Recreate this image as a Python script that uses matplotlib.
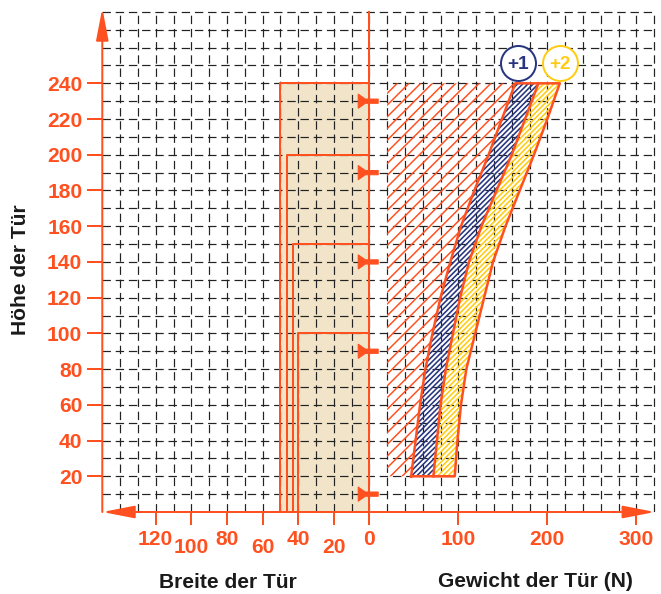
import numpy as np
import matplotlib.pyplot as plt
from matplotlib.patches import Polygon, Rectangle
from matplotlib.collections import LineCollection

plt.rcParams['font.family'] = ['Liberation Sans', 'DejaVu Sans']
plt.rcParams['font.weight'] = 'bold'

OR = '#ff5020'
NAVY = '#27357f'
GOLD = '#ffcc14'
BEIGE = '#f2e4c8'

# Höhe der Tür (cm) und Grenzkurven Gewicht (N)
hoehe = [20, 40, 60, 80, 100, 120, 140, 160, 180, 200, 220, 240]
grenze_links = [47, 52, 57, 63, 71, 80, 91, 103, 118, 134, 149, 164]
grenze_mitte = [72, 76, 80, 86, 94, 102, 112, 126, 143, 160, 175, 190]
grenze_rechts = [96, 99, 103, 109, 119, 129, 139, 153, 169, 185, 200, 214]

# Türbreiten (cm) mit zugehöriger max. Höhe
breite = [50, 46, 43, 40]
breite_hoehe = [240, 200, 150, 100]
pfeil_hoehe = [230, 190, 140, 90, 10]

breite_ticks = [120, 100, 80, 60, 40, 20, 0]
breite_unten = [False, True, False, True, False, True, False]
gewicht_ticks = [100, 200, 300]

S = 2  # 1 cm Breite = 2 Einheiten (N-Skala)

fig = plt.figure(figsize=(661 / 72, 594 / 72), dpi=72)
ax = fig.add_axes([102.3 / 661, 82 / 594, 553.6 / 661, 503.7 / 594])
ax.set_xlim(-300, 322)
ax.set_ylim(0, 282)
for s in ax.spines.values():
    s.set_visible(False)

kx = 553.6 / 622   # Pixel je Einheit
ky = 503.7 / 282


def schraffur(punkte, abstand, farbe, lw):
    # 45°-Schraffur (am Bildschirm), auf das Polygon beschnitten
    p = Polygon(punkte, closed=True, fill=False, lw=0)
    ax.add_patch(p)
    steig = kx / ky
    segs = [[(x0, 0), (x0 + 282 / steig, 282)] for x0 in np.arange(-700, 400, abstand / kx)]
    lc = LineCollection(segs, colors=farbe, linewidths=lw, zorder=2)
    lc.set_clip_path(p)
    ax.add_collection(lc, autolim=False)


# Raster
dash = (0, (7, 4))
ax.hlines(np.arange(10, 290, 10), -300, 320, colors='#222222', lw=1.2, linestyles=dash, zorder=1)
ax.vlines(np.arange(-280, 340, 20), 0, 280, colors='#222222', lw=1.2, linestyles=dash, zorder=1)

# Breite-Kasten
ax.add_patch(Rectangle((-S * breite[0], 0), S * breite[0], breite_hoehe[0], fc=BEIGE, ec='none', zorder=0.5))
for b, h in zip(breite, breite_hoehe):
    ax.plot([-S * b, -S * b, 0], [0, h, h], color=OR, lw=2, zorder=3)
ax.plot([0, 0], [0, 280], color=OR, lw=2, zorder=3)

# Pfeile auf der 0-Linie
form = np.array([[-12.5, 4.0], [-4.5, 1.2], [10, 1.2], [10, -1.2], [-4.5, -1.2], [-12.5, -4.0]])
for h in pfeil_hoehe:
    ax.add_patch(Polygon(form + [0, h], closed=True, fc=OR, ec=OR, lw=1, zorder=5))

# schraffierte Bereiche
rot = [(20, hoehe[0]), (20, hoehe[-1])] + list(zip(grenze_links[::-1], hoehe[::-1]))
schraffur(rot, 11.7, OR, 1.5)
blau = list(zip(grenze_links, hoehe)) + list(zip(grenze_mitte[::-1], hoehe[::-1]))
schraffur(blau, 5.2, NAVY, 1.6)
gelb = list(zip(grenze_mitte, hoehe)) + list(zip(grenze_rechts[::-1], hoehe[::-1]))
schraffur(gelb, 5.2, GOLD, 1.6)

ax.plot(grenze_links + grenze_rechts[::-1] + [grenze_links[0]],
        hoehe + hoehe[::-1] + [hoehe[0]], color=OR, lw=2.5, zorder=4)
ax.plot(grenze_mitte, hoehe, color=OR, lw=2.5, zorder=4)

# +1 / +2
for x, txt, c in [(167, '+1', NAVY), (214, '+2', GOLD)]:
    ax.plot(x, 251.5, 'o', ms=35, mfc='white', mec=c, mew=2, zorder=6, clip_on=False)
    ax.text(x, 251.5, txt, color=c, ha='center', va='center_baseline', fontsize=19, zorder=7)

# Achsen mit Pfeilen
ax.annotate('', xy=(-300, 282), xytext=(-300, 0),
            arrowprops=dict(arrowstyle='-|>,head_length=1.7,head_width=0.33', mutation_scale=16,
                            color=OR, lw=2, shrinkA=0, shrinkB=0), annotation_clip=False)
ax.annotate('', xy=(321, 0), xytext=(-300, 0),
            arrowprops=dict(arrowstyle='<|-|>,head_length=1.7,head_width=0.33', mutation_scale=16,
                            color=OR, lw=2, shrinkA=0, shrinkB=0), annotation_clip=False)

ax.set_yticks(range(20, 260, 20))
ax.tick_params(axis='y', length=15, width=2, color=OR, labelcolor=OR, labelsize=21, pad=5)
ax.set_xticks([-S * w for w in breite_ticks] + gewicht_ticks)
ax.tick_params(axis='x', length=13, width=2, color=OR, labelbottom=False)

for w, unten in zip(breite_ticks, breite_unten):
    ax.annotate(str(w), xy=(-S * w, 0), xytext=(0, -41 if unten else -33), textcoords='offset points',
                ha='center', va='baseline', color=OR, fontsize=21, annotation_clip=False)
for g in gewicht_ticks:
    ax.annotate(str(g), xy=(g, 0), xytext=(0, -33), textcoords='offset points',
                ha='center', va='baseline', color=OR, fontsize=21, annotation_clip=False)

fig.text(227.5 / 661, 1 - 588 / 594, 'Breite der Tür', ha='center', va='baseline', fontsize=21, color='#1a1a1a')
fig.text(535 / 661, 1 - 587 / 594, 'Gewicht der Tür (N)', ha='center', va='baseline', fontsize=21, color='#1a1a1a')
fig.text(21 / 661, 1 - 270 / 594, 'Höhe der Tür', rotation=90, ha='center', va='center', fontsize=21, color='#1a1a1a')

fig.savefig('out.png', dpi=72, facecolor='white')
